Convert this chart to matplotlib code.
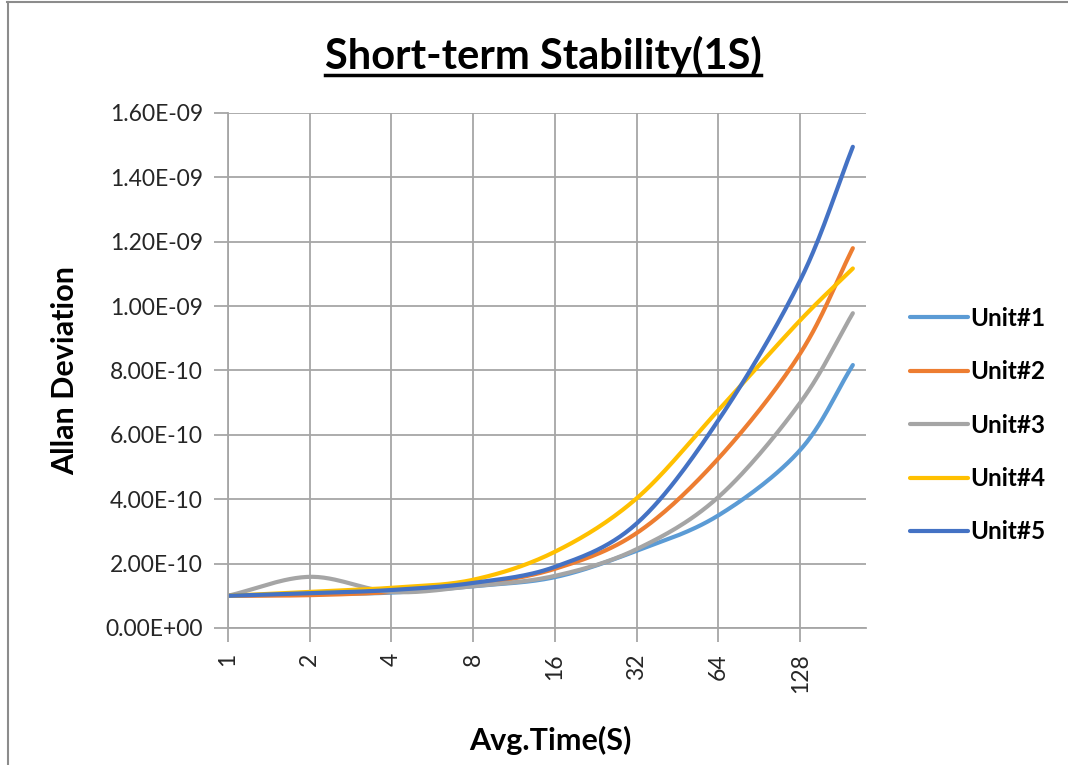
import numpy as np
import matplotlib
matplotlib.use("Agg")
import matplotlib.pyplot as plt
from matplotlib.lines import Line2D

plt.rcParams['font.family'] = ['Lato', 'DejaVu Sans']

# averaging times (s) and Allan deviation per unit
avg_time = [1, 2, 4, 8, 16, 32, 64, 128, 200]
unit1 = [1.00e-10, 1.05e-10, 1.10e-10, 1.30e-10, 1.58e-10, 2.40e-10, 3.50e-10, 5.53e-10, 8.17e-10]
unit2 = [1.00e-10, 1.02e-10, 1.12e-10, 1.35e-10, 1.84e-10, 2.95e-10, 5.27e-10, 8.53e-10, 11.80e-10]
unit3 = [1.00e-10, 1.59e-10, 1.12e-10, 1.30e-10, 1.62e-10, 2.45e-10, 4.07e-10, 7.00e-10, 9.78e-10]
unit4 = [1.00e-10, 1.12e-10, 1.25e-10, 1.50e-10, 2.37e-10, 4.03e-10, 6.77e-10, 9.56e-10, 11.17e-10]
unit5 = [1.00e-10, 1.08e-10, 1.18e-10, 1.40e-10, 1.90e-10, 3.25e-10, 6.46e-10, 10.80e-10, 14.95e-10]
names = ["Unit#1", "Unit#2", "Unit#3", "Unit#4", "Unit#5"]
colors = ["#5B9BD5", "#ED7D31", "#A5A5A5", "#FFC000", "#4472C4"]
tick_vals = [1, 2, 4, 8, 16, 32, 64, 128]
y_ticks = np.arange(0, 1.61e-9, 0.2e-9)


def smooth(xs, ys, n=30):
    # Catmull-Rom curve through the points (like Excel's smoothed line), in log2-x space
    px = np.log2(np.array(xs, float))
    py = np.array(ys, float) * 1e10
    P = np.column_stack([px, py])
    P = np.vstack([P[0] - (P[1] - P[0]), P, P[-1] + (P[-1] - P[-2])])
    out = []
    for i in range(1, len(P) - 2):
        p0, p1, p2, p3 = P[i - 1], P[i], P[i + 1], P[i + 2]
        t = np.linspace(0, 1, n)[:, None]
        c = 0.5 * ((2 * p1) + (-p0 + p2) * t + (2 * p0 - 5 * p1 + 4 * p2 - p3) * t ** 2
                   + (-p0 + 3 * p1 - 3 * p2 + p3) * t ** 3)
        out.append(c if i == 1 else c[1:])
    c = np.vstack(out)
    return 2 ** c[:, 0], c[:, 1] * 1e-10


def sci(v):
    if v == 0:
        return "0.00E+00"
    e = int(np.floor(np.log10(v)))
    return "%.2fE-%02d" % (v / 10 ** e, -e)


fig = plt.figure(figsize=(10.68, 7.65), dpi=100)
ax = fig.add_axes([228 / 1068, 1 - 628 / 765, (866 - 228) / 1068, (628 - 113) / 765])

series = [unit1, unit2, unit3, unit4, unit5]
for vals, name, col in zip(series, names, colors):
    sx, sy = smooth(avg_time, vals)
    ax.plot(sx, sy, color=col, lw=3, label=name, solid_capstyle='round')

ax.set_xscale('log', base=2)
ax.set_xlim(1, 2 ** (7 + 66 / 82))
ax.set_ylim(0, 1.6e-9)
ax.set_xticks(tick_vals)
ax.set_xticklabels([str(v) for v in tick_vals], rotation=90, fontsize=16.5, color='#262626')
ax.minorticks_off()
ax.set_yticks(y_ticks)
ax.set_yticklabels([sci(v) for v in y_ticks], fontsize=16.5, color='#262626')
ax.grid(True, color='#A6A6A6', lw=1.3)
ax.set_axisbelow(True)
for s in ['top', 'right']:
    ax.spines[s].set_visible(False)
for s in ['left', 'bottom']:
    ax.spines[s].set_color('#A6A6A6')
    ax.spines[s].set_linewidth(1.3)
ax.tick_params(axis='both', length=10, width=1.3, color='#A6A6A6', pad=8)

title = fig.text(543 / 1068, 1 - 56 / 765, "Short-term Stability(1S)", ha='center', va='center',
                 fontsize=30, fontweight='bold')
fig.text(65 / 1068, 1 - 370 / 765, "Allan Deviation", rotation=90, ha='center', va='center',
         fontsize=22, fontweight='bold')
fig.text(550 / 1068, 1 - 740 / 765, "Avg.Time(S)", ha='center', va='center',
         fontsize=22, fontweight='bold')

leg = fig.legend(loc='upper left', bbox_to_anchor=(888 / 1068, 1 - 285 / 765), frameon=False,
                 labelspacing=1.25, handlelength=2.4, handletextpad=0.1,
                 prop={'weight': 'bold', 'size': 17.5})

# underline the title under its drawn extent
fig.canvas.draw()
bb = title.get_window_extent().transformed(fig.transFigure.inverted())
fig.add_artist(Line2D([bb.x0, bb.x1], [1 - 75 / 765, 1 - 75 / 765], color='black', lw=2.5))

# chart border
fig.add_artist(Line2D([7 / 1068, 1], [1 - 1.5 / 765, 1 - 1.5 / 765], color='#8C8C8C', lw=1.5))
fig.add_artist(Line2D([7.5 / 1068, 7.5 / 1068], [0, 1 - 1.5 / 765], color='#8C8C8C', lw=1.5))

fig.savefig("out.png", dpi=100)
